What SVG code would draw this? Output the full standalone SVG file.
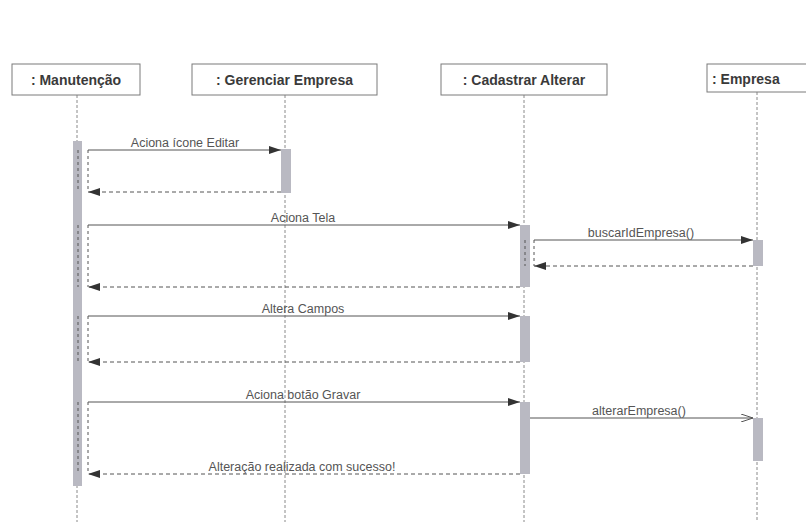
<svg xmlns="http://www.w3.org/2000/svg" width="806" height="526" viewBox="0 0 806 526">
<style>
.box{fill:#fff;stroke:#7a7a7a;stroke-width:1}
.title{font-family:"Liberation Sans",Arial,sans-serif;font-size:14px;font-weight:bold;fill:#3a3a3a}
.life{stroke:#8a8a8a;stroke-width:1;stroke-dasharray:3 2;fill:none}
.act{fill:#b9b9c2;stroke:none}
.frame{fill:none;stroke:#555;stroke-width:1;stroke-dasharray:3 3}
.msg{stroke:#555;stroke-width:1;fill:none}
.ret{stroke:#555;stroke-width:1;stroke-dasharray:4 3;fill:none}
.lbl{font-family:"Liberation Sans",Arial,sans-serif;font-size:12.5px;fill:#555;text-anchor:middle}
</style>
<defs>
<marker id="fa" viewBox="0 0 12 8" refX="12" refY="4" markerWidth="12" markerHeight="8" markerUnits="userSpaceOnUse" orient="auto">
<path d="M0,0 L12,4 L0,8 Z" fill="#333"/>
</marker>
<marker id="oa" viewBox="0 0 12 8" refX="12" refY="4" markerWidth="12" markerHeight="8" markerUnits="userSpaceOnUse" orient="auto">
<path d="M0,0 L12,4 L0,8" fill="none" stroke="#555" stroke-width="1"/>
</marker>
</defs>
<g id="lifelines">
<line class="life" x1="77" y1="95" x2="77" y2="522"/>
<line class="life" x1="285" y1="95" x2="285" y2="522"/>
<line class="life" x1="524" y1="95" x2="524" y2="522"/>
<line class="life" x1="757" y1="92" x2="757" y2="522"/>
</g>
<g id="node-manutencao">
<rect class="box" x="12" y="64" width="128" height="31"/>
<text class="title" x="76" y="85" text-anchor="middle">: Manutenção</text>
<rect class="act" x="73" y="141" width="9" height="345"/>
</g>
<g id="node-gerenciar">
<rect class="box" x="192" y="64" width="185" height="31"/>
<text class="title" x="284.5" y="85" text-anchor="middle">: Gerenciar Empresa</text>
<rect class="act" x="281" y="149" width="10" height="44"/>
</g>
<g id="node-cadastrar">
<rect class="box" x="441" y="64" width="166" height="31"/>
<text class="title" x="524" y="85" text-anchor="middle">: Cadastrar Alterar</text>
<rect class="act" x="520" y="225" width="10" height="62"/>
<rect class="act" x="520" y="316" width="10" height="46"/>
<rect class="act" x="520" y="402" width="10" height="72"/>
</g>
<g id="node-empresa">
<rect class="box" x="707" y="64" width="110" height="28"/>
<text class="title" x="712" y="84">: Empresa</text>
<rect class="act" x="753" y="240" width="10" height="26"/>
<rect class="act" x="753" y="418" width="10" height="43"/>
</g>
<g id="connectors">
<path class="frame" d="M78,150 V192 M88,150 V192"/>
<path class="frame" d="M78,225 V287 M88,225 V287"/>
<path class="frame" d="M78,316 V362 M88,316 V362"/>
<path class="frame" d="M78,402 V474 M88,402 V474"/>
<path class="frame" d="M525,240 V266 M534,240 V266"/>
<line class="msg" x1="88" y1="150" x2="281" y2="150" marker-end="url(#fa)"/>
<line class="ret" x1="281" y1="192" x2="88" y2="192" marker-end="url(#fa)"/>
<line class="msg" x1="88" y1="225" x2="520" y2="225" marker-end="url(#fa)"/>
<line class="msg" x1="534" y1="240" x2="753" y2="240" marker-end="url(#fa)"/>
<line class="ret" x1="753" y1="266" x2="534" y2="266" marker-end="url(#fa)"/>
<line class="ret" x1="520" y1="287" x2="88" y2="287" marker-end="url(#fa)"/>
<line class="msg" x1="88" y1="316" x2="520" y2="316" marker-end="url(#fa)"/>
<line class="ret" x1="520" y1="362" x2="88" y2="362" marker-end="url(#fa)"/>
<line class="msg" x1="88" y1="402" x2="520" y2="402" marker-end="url(#fa)"/>
<line class="msg" x1="530" y1="418" x2="753" y2="418" marker-end="url(#oa)"/>
<line class="ret" x1="520" y1="474" x2="88" y2="474" marker-end="url(#fa)"/>
<text class="lbl" x="185" y="147">Aciona ícone Editar</text>
<text class="lbl" x="303" y="222">Aciona Tela</text>
<text class="lbl" x="641" y="237">buscarIdEmpresa()</text>
<text class="lbl" x="303" y="313">Altera Campos</text>
<text class="lbl" x="303" y="399">Aciona botão Gravar</text>
<text class="lbl" x="639" y="415">alterarEmpresa()</text>
<text class="lbl" x="302" y="471">Alteração realizada com sucesso!</text>
</g>
</svg>
